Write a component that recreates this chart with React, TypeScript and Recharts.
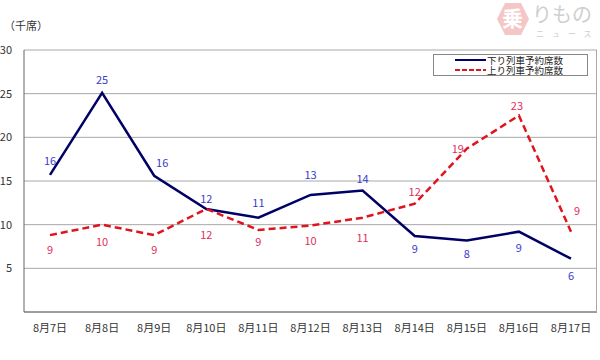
import { LineChart, Line, XAxis, YAxis, CartesianGrid, LabelList } from 'recharts'

const dates = ['8月7日', '8月8日', '8月9日', '8月10日', '8月11日', '8月12日', '8月13日', '8月14日', '8月15日', '8月16日', '8月17日']
const downSeats = [15.7, 25.1, 15.6, 11.8, 10.8, 13.4, 13.9, 8.7, 8.2, 9.2, 6.1]
const upSeats = [8.8, 10.0, 8.8, 11.8, 9.4, 9.9, 10.8, 12.4, 18.7, 22.5, 9.2]
const downLabels = [16, 25, 16, 12, 11, 13, 14, 9, 8, 9, 6]
const upLabels = [9, 10, 9, 12, 9, 10, 11, 12, 19, 23, 9]
const yTicks = [0, 5, 10, 15, 20, 25, 30]

// label offsets (dx, dy) relative to each point, by series
const downOffsets = [[0, -15], [0, -14], [8, -14], [0, -11], [0, -16], [0, -21], [0, -13], [0, 12], [0, 13], [0, 15], [0, 16]]
const upOffsets = [[0, 14], [0, 16], [0, 14], [0, 25], [0, 11], [0, 14], [0, 19], [0, -13], [-9, -1], [-2, -11], [6, -22]]

const data = dates.map((d, i) => ({
  date: d,
  down: downSeats[i],
  up: upSeats[i],
  downLabel: downLabels[i],
  upLabel: upLabels[i],
}))

const font = '"MS PGothic", "Noto Sans CJK JP", sans-serif'

const makeLabel = (offsets: number[][], color: string) => (props: any) => {
  const { x, y, index, value } = props
  const [dx, dy] = offsets[index]
  return (
    <text x={x + dx} y={y + dy} textAnchor="middle" dominantBaseline="central" fill={color} fontSize={11} fontFamily={font}>
      {value}
    </text>
  )
}

export default function App() {
  return (
    <div style={{ position: 'absolute', left: 0, top: 0, width: 600, height: 360, background: '#fff', fontFamily: font }}>
      <div style={{ position: 'absolute', left: 4, top: 17, fontSize: 11, color: '#333' }}>（千席）</div>

      {/* watermark logo */}
      <div style={{ position: 'absolute', left: 497, top: 3, width: 32, height: 32, background: '#f4c6c6', clipPath: 'polygon(25% 0, 75% 0, 100% 50%, 75% 100%, 25% 100%, 0 50%)' }} />
      <div style={{ position: 'absolute', left: 502, top: 6, fontSize: 21, lineHeight: '22px', color: '#fff', fontWeight: 700 }}>乗</div>
      <div style={{ position: 'absolute', left: 532, top: 3, fontSize: 20, lineHeight: '22px', color: '#cfcfcf' }}>りもの</div>
      <div style={{ position: 'absolute', left: 536, top: 29, fontSize: 8, lineHeight: '9px', color: '#cfcfcf', letterSpacing: 8 }}>ニュース</div>

      <LineChart width={600} height={360} data={data} margin={{ top: 50, right: 3, left: 0, bottom: 18 }}>
        <CartesianGrid vertical={false} stroke="#a8a8a8" strokeWidth={1} />
        <XAxis
          dataKey="date"
          stroke="#666"
          tickLine={false}
          tickMargin={6}
          padding={{ left: 26, right: 26 }}
          tick={{ fill: '#333', fontSize: 11, fontFamily: font }}
          interval={0}
          height={30}
        />
        <YAxis
          domain={[0, 30]}
          ticks={yTicks}
          width={24}
          stroke="#666"
          tickLine={false}
          tickMargin={6}
          tickFormatter={(v: number) => (v === 0 ? '' : String(v))}
          tick={{ fill: '#333', fontSize: 11, fontFamily: font }}
        />
        <Line
          type="linear"
          dataKey="down"
          stroke="#000066"
          strokeWidth={2.5}
          dot={false}
          isAnimationActive={false}
        >
          <LabelList dataKey="downLabel" content={makeLabel(downOffsets, '#3a3acc')} />
        </Line>
        <Line
          type="linear"
          dataKey="up"
          stroke="#e0141e"
          strokeWidth={2.5}
          strokeDasharray="7 4"
          dot={false}
          isAnimationActive={false}
        >
          <LabelList dataKey="upLabel" content={makeLabel(upOffsets, '#e0305a')} />
        </Line>
      </LineChart>

      {/* right frame line */}
      <div style={{ position: 'absolute', left: 596, top: 50, width: 1, height: 262, background: '#a8a8a8' }} />

      {/* legend */}
      <div style={{ position: 'absolute', left: 433, top: 54, width: 153, height: 20, border: '1px solid #888', background: '#fff', fontSize: 9.5, color: '#222' }}>
        <div style={{ display: 'flex', alignItems: 'center', marginLeft: 21, height: 10, lineHeight: '10px' }}>
          <svg width={32} height={10}><line x1={0} y1={5} x2={31} y2={5} stroke="#000066" strokeWidth={2} /></svg>
          <span>下り列車予約席数</span>
        </div>
        <div style={{ display: 'flex', alignItems: 'center', marginLeft: 21, height: 10, lineHeight: '10px' }}>
          <svg width={32} height={10}><line x1={0} y1={5} x2={31} y2={5} stroke="#e0141e" strokeWidth={2} strokeDasharray="5 2" /></svg>
          <span>上り列車予約席数</span>
        </div>
      </div>
    </div>
  )
}
